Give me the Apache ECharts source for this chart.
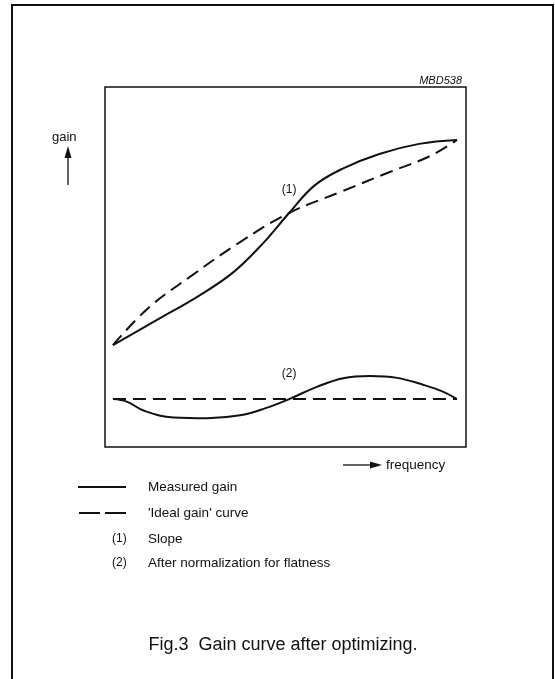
<!DOCTYPE html>
<html>
<head>
<meta charset="utf-8">
<script src="https://cdn.jsdelivr.net/npm/echarts@6/dist/echarts.min.js"></script>
<style>
html,body{margin:0;padding:0;background:#fff;}
#c{width:555px;height:679px;}
</style>
</head>
<body>
<div id="c"></div>
<script>
// Schematic values (arbitrary units 0..100 on both axes)
var slopeIdealX = [2.2, 12.0, 24.0, 37.4, 51.0, 65.1, 78.9, 90.0, 97.5];
var slopeIdealY = [28.3, 38.6, 47.6, 56.9, 65.0, 70.8, 76.4, 80.8, 85.3];

var slopeMeasX = [2.2, 14.4, 26.0, 35.5, 43.5, 51.0, 58.0, 66.0, 76.0, 87.0, 97.5];
var slopeMeasY = [28.3, 35.3, 42.0, 48.5, 56.3, 65.0, 72.6, 77.4, 81.4, 84.2, 85.3];

var flatIdealX = [2.2, 97.5];
var flatIdealY = [13.3, 13.3];

var flatMeasX = [2.2, 6.0, 11.0, 19.0, 28.3, 37.4, 44.5, 51.0, 58.7, 66.0, 73.4, 80.9, 88.1, 93.6, 97.5];
var flatMeasY = [13.3, 12.6, 10.0, 8.2, 8.0, 8.8, 10.8, 13.3, 16.7, 19.1, 19.7, 19.2, 17.3, 15.4, 13.3];

var labelTexts = ['(1)', '(2)'];
var labelPos = [[51.0, 71.5], [51.0, 20.5]];

var legendTexts = ['Measured gain', "'Ideal gain' curve", 'Slope', 'After normalization for flatness'];
var titleText = 'Fig.3  Gain curve after optimizing.';

function pairs(xs, ys) { return xs.map(function (x, i) { return [x, ys[i]]; }); }

var FONT = '"Liberation Sans", Arial, Helvetica, sans-serif';
var INK = '#111';
var dash = [13, 7];

var chart = echarts.init(document.getElementById('c'), null, {renderer: 'canvas'});

var lineBase = function (data, dashed, smooth) {
  return {
    type: 'line', data: data, symbol: 'none', smooth: smooth,
    lineStyle: {color: INK, width: 2, type: dashed ? dash : 'solid'},
    animation: false, silent: true
  };
};

var s1 = lineBase(pairs(slopeMeasX, slopeMeasY), false, 0.4);
s1.markPoint = {
  symbol: 'circle', symbolSize: 0, animation: false,
  label: {show: true, color: INK, fontFamily: FONT, fontSize: 12, position: 'inside'},
  data: [
    {coord: labelPos[0], value: labelTexts[0], label: {formatter: labelTexts[0]}},
    {coord: labelPos[1], value: labelTexts[1], label: {formatter: labelTexts[1]}}
  ]
};

var legendX = 148, legendY = [487, 513, 539, 563];

var option = {
  backgroundColor: '#fff',
  animation: false,
  grid: {left: 105, top: 87, width: 361, height: 360, show: true, borderColor: INK, borderWidth: 1.5, backgroundColor: 'transparent'},
  xAxis: {type: 'value', min: 0, max: 100, show: false},
  yAxis: {type: 'value', min: 0, max: 100, show: false},
  series: [
    s1,
    lineBase(pairs(slopeIdealX, slopeIdealY), true, 0.4),
    lineBase(pairs(flatMeasX, flatMeasY), false, 0.4),
    lineBase(pairs(flatIdealX, flatIdealY), true, false)
  ],
  graphic: [
    // outer frame
    {type: 'rect', shape: {x: 12, y: 5, width: 541, height: 700}, style: {fill: 'none', stroke: INK, lineWidth: 2}},
    // MBD538
    {type: 'text', x: 462, y: 81, style: {text: 'MBD538', font: 'italic 11px ' + FONT, fill: INK, textAlign: 'right', textVerticalAlign: 'middle'}},
    // gain label + arrow
    {type: 'text', x: 52, y: 137, style: {text: 'gain', font: '13px ' + FONT, fill: INK, textAlign: 'left', textVerticalAlign: 'middle'}},
    {type: 'line', shape: {x1: 68, y1: 185, x2: 68, y2: 155}, style: {stroke: INK, lineWidth: 1.3}},
    {type: 'polygon', shape: {points: [[68, 146], [64.5, 158], [71.5, 158]]}, style: {fill: INK}},
    // frequency arrow + label
    {type: 'line', shape: {x1: 343, y1: 465, x2: 372, y2: 465}, style: {stroke: INK, lineWidth: 1.3}},
    {type: 'polygon', shape: {points: [[382, 465], [370, 461.5], [370, 468.5]]}, style: {fill: INK}},
    {type: 'text', x: 386, y: 465, style: {text: 'frequency', font: '13.5px ' + FONT, fill: INK, textAlign: 'left', textVerticalAlign: 'middle'}},
    // legend
    {type: 'line', shape: {x1: 78, y1: 487, x2: 126, y2: 487}, style: {stroke: INK, lineWidth: 2}},
    {type: 'line', shape: {x1: 79, y1: 513, x2: 126, y2: 513}, style: {stroke: INK, lineWidth: 2, lineDash: [21, 5]}},
    {type: 'text', x: 112, y: 539, style: {text: labelTexts[0], font: '12px ' + FONT, fill: INK, textAlign: 'left', textVerticalAlign: 'middle'}},
    {type: 'text', x: 112, y: 563, style: {text: labelTexts[1], font: '12px ' + FONT, fill: INK, textAlign: 'left', textVerticalAlign: 'middle'}},
    {type: 'text', x: legendX, y: legendY[0], style: {text: legendTexts[0], font: '13.5px ' + FONT, fill: INK, textVerticalAlign: 'middle'}},
    {type: 'text', x: legendX, y: legendY[1], style: {text: legendTexts[1], font: '13.5px ' + FONT, fill: INK, textVerticalAlign: 'middle'}},
    {type: 'text', x: legendX, y: legendY[2], style: {text: legendTexts[2], font: '13.5px ' + FONT, fill: INK, textVerticalAlign: 'middle'}},
    {type: 'text', x: legendX, y: legendY[3], style: {text: legendTexts[3], font: '13.5px ' + FONT, fill: INK, textVerticalAlign: 'middle'}},
    // caption
    {type: 'text', x: 283, y: 645, style: {text: titleText, font: '18px ' + FONT, fill: INK, textAlign: 'center', textVerticalAlign: 'middle'}}
  ]
};
chart.setOption(option);
</script>
</body>
</html>
